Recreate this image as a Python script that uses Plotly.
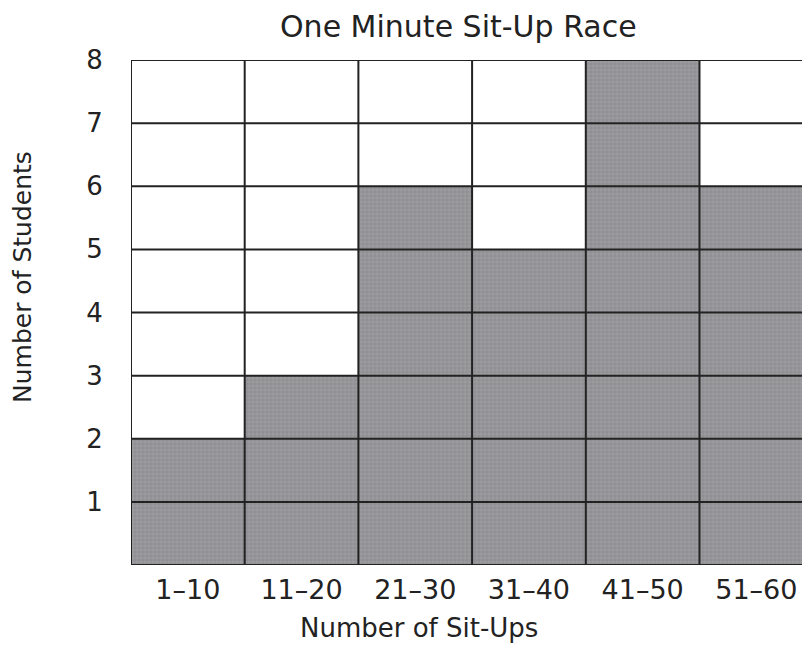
import plotly.graph_objects as go

# Data
bins = ["1–10", "11–20", "21–30", "31–40", "41–50", "51–60"]
students = [2, 3, 6, 5, 8, 6]
y_ticks = [1, 2, 3, 4, 5, 6, 7, 8]

title_text = "One Minute Sit-Up Race"
x_title = "Number of Sit-Ups"
y_title = "Number of Students"

FONT = "DejaVu Sans"
INK = "#222222"
FILL = "#909094"

x_pos = list(range(len(bins)))

fig = go.Figure()
fig.add_trace(go.Bar(
    x=x_pos,
    y=students,
    width=1.0,
    marker=dict(
        color=FILL,
        line=dict(width=0),
        pattern=dict(shape="+", fgcolor="#bcbcc0", bgcolor=FILL, size=4, solidity=0.25),
    ),
    hoverinfo="skip",
))

# grid lines drawn above bars, positioned from tick values / bin edges
grid_style = dict(color=INK, width=2)
for v in [0] + y_ticks:
    fig.add_shape(type="line", xref="x domain", yref="y", x0=0, x1=1, y0=v, y1=v,
                  line=grid_style, layer="above")
for i in range(len(bins) + 1):
    edge = i - 0.5
    fig.add_shape(type="line", xref="x", yref="y", x0=edge, x1=edge, y0=0, y1=max(y_ticks),
                  line=grid_style, layer="above")

# page body has an 8px offset; positions below are in screen pixels
OFF = 8
W, H = 810, 645
L, R, T, B = 131 - OFF, OFF, 60 - OFF, H - (565 - OFF)
pw, ph = W - L - R, H - T - B

def px(xs):
    return (xs - OFF - L) / pw

def py(ys):
    return (H - B - (ys - OFF)) / ph

fig.update_layout(
    width=W, height=H,
    margin=dict(l=L, r=R, t=T, b=B),
    plot_bgcolor="white",
    paper_bgcolor="white",
    showlegend=False,
    font=dict(family=FONT, color=INK),
    xaxis=dict(
        range=[-0.5, -0.5 + 5.972],
        tickvals=x_pos,
        ticktext=bins,
        showgrid=False,
        zeroline=False,
        showline=False,
        ticks="outside",
        ticklen=1,
        tickcolor="rgba(0,0,0,0)",
        tickfont=dict(size=27, family=FONT, color=INK),
        fixedrange=True,
    ),
    yaxis=dict(
        range=[0, 8],
        tickvals=y_ticks,
        showgrid=False,
        zeroline=False,
        showline=False,
        ticks="outside",
        ticklen=22,
        tickcolor="rgba(0,0,0,0)",
        tickfont=dict(size=26, family=FONT, color=INK),
        fixedrange=True,
    ),
    annotations=[
        dict(text=title_text, xref="paper", yref="paper", x=px(458), y=py(OFF),
             xanchor="center", yanchor="top", showarrow=False, borderpad=0,
             font=dict(size=30, family=FONT, color=INK)),
        dict(text=y_title, xref="paper", yref="paper", x=px(22), y=py(277),
             xanchor="center", yanchor="middle", showarrow=False, textangle=-90,
             font=dict(size=25, family=FONT, color=INK)),
        dict(text=x_title, xref="paper", yref="paper", x=px(419), y=py(628),
             xanchor="center", yanchor="middle", showarrow=False,
             font=dict(size=26, family=FONT, color=INK)),
    ],
)

fig.write_html("out.html")
